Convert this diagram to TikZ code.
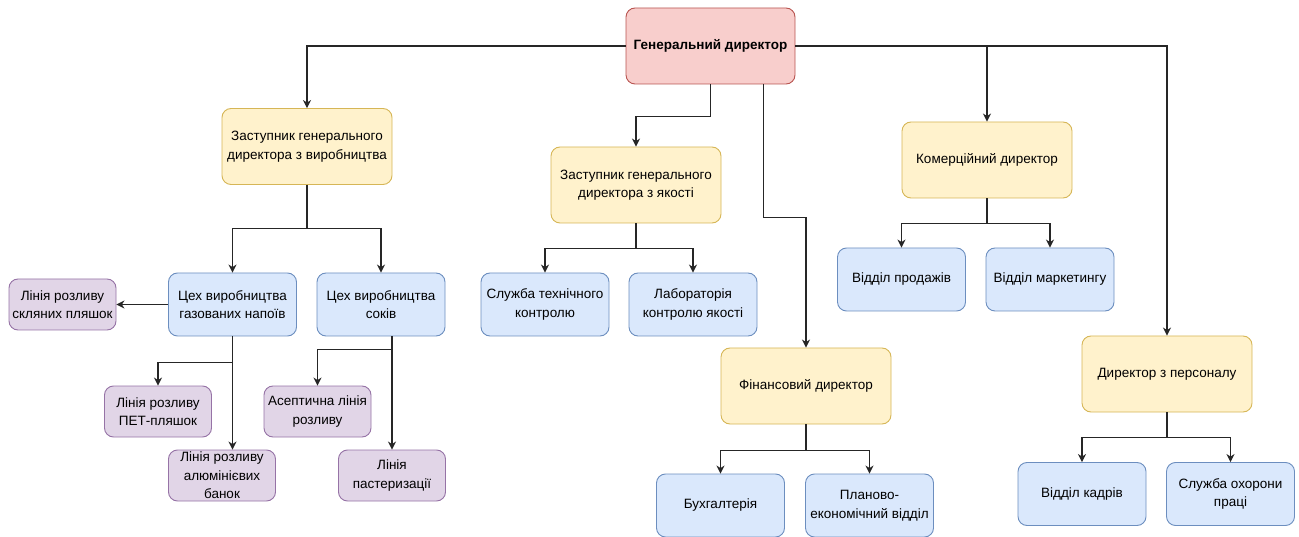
\documentclass[tikz,border=0pt]{standalone}
\usepackage{fontspec}
\setmainfont{Liberation Sans}
\usetikzlibrary{positioning}
\usetikzlibrary{arrows.meta}
\definecolor{genfill}{HTML}{F8CECC}
\definecolor{genline}{HTML}{B85450}
\definecolor{dirfill}{HTML}{FFF2CC}
\definecolor{dirline}{HTML}{D6B656}
\definecolor{deptfill}{HTML}{DAE8FC}
\definecolor{deptline}{HTML}{6C8EBF}
\definecolor{linefill}{HTML}{E1D5E7}
\definecolor{lineline}{HTML}{9673A6}
\newcommand{\boxfont}{\fontsize{13.5}{18.5}\selectfont}

\begin{document}
\begin{tikzpicture}[x=1pt,y=-1pt
  ,every node/.style={align=center,rounded corners=9pt,line width=0.9pt,inner sep=2pt,font=\boxfont}
  ,genbox/.style={draw=genline,fill=genfill,minimum width=169pt,minimum height=76pt,font=\boxfont\bfseries}
  ,dirbox/.style={draw=dirline,fill=dirfill,minimum width=170pt,minimum height=76pt}
  ,deptbox/.style={draw=deptline,fill=deptfill,minimum width=128pt,minimum height=63pt}
  ,linebox/.style={draw=lineline,fill=linefill,minimum width=107pt,minimum height=51pt}
  ,conn/.style={-{Stealth[length=8pt,width=8pt,inset=2.5pt]},line width=1.1pt,black!85}
  ,hv/.style={to path={-| (\tikztotarget)}}
  ,elbow/.style={to path={-- ++(0,#1) -| (\tikztotarget)}}
  ]
\useasboundingbox (0,0) rectangle (1299,537);

% top level
\node[genbox] (gen) at (710.5,46) {Генеральний директор};

% directors
\node[dirbox] (zv) at (307,146.5) {Заступник генерального\\директора з виробництва};
\node[dirbox] (zy) at (636,185) {Заступник генерального\\директора з якості};
\node[dirbox] (kd) at (987,160) {Комерційний директор};
\node[dirbox] (fd) at (806,386) {Фінансовий директор};
\node[dirbox] (pd) at (1167,374) {Директор з персоналу};

% departments
\node[deptbox] (cg) at (232.5,304.5) {Цех виробництва\\газованих напоїв};
\node[deptbox] (cs) at (381,304.5) {Цех виробництва\\соків};
\node[deptbox] (sk) at (545,304.5) {Служба технічного\\контролю};
\node[deptbox] (lab) at (693,304.5) {Лабораторія\\контролю якості};
\node[deptbox] (vp) at (901.5,279.5) {Відділ продажів};
\node[deptbox] (vm) at (1050,279.5) {Відділ маркетингу};
\node[deptbox] (buh) at (720.5,505.5) {Бухгалтерія};
\node[deptbox] (plan) at (869.5,505.5) {Планово-\\економічний відділ};
\node[deptbox] (vk) at (1082,494) {Відділ кадрів};
\node[deptbox] (ohor) at (1230.5,494) {Служба охорони\\праці};

% production lines
\node[linebox] (ls) at (62.5,304.5) {Лінія розливу\\скляних пляшок};
\node[linebox] (pet) at (158,411.5) {Лінія розливу\\ПЕТ-пляшок};
\node[linebox] (al) at (222,475.5) {Лінія розливу\\алюмінієвих\\банок};
\node[linebox] (as) at (317.5,411.5) {Асептична лінія\\розливу};
\node[linebox] (past) at (392,475.5) {Лінія\\пастеризації};

\path[conn]
  (gen.west) edge[hv] (zv.north)
  (gen.east) edge[hv] (kd.north)
  (gen.east) edge[hv] (pd.north)
  (gen.south) edge[elbow=32] (zy.north)
  ([xshift=53pt]gen.south) edge[elbow=133] (fd.north)
  (zv.south) edge[elbow=44] (cg.north)
  (zv.south) edge[elbow=44] (cs.north)
  (zy.south) edge[elbow=25] (sk.north)
  (zy.south) edge[elbow=25] (lab.north)
  (kd.south) edge[elbow=25] (vp.north)
  (kd.south) edge[elbow=25] (vm.north)
  (fd.south) edge[elbow=26] (buh.north)
  (fd.south) edge[elbow=26] (plan.north)
  (pd.south) edge[elbow=25] (vk.north)
  (pd.south) edge[elbow=25] (ohor.north)
  (cg.west) edge (ls.east)
  (cg.south) edge[elbow=26] (pet.north)
  (cg.south) edge (cg.south |- al.north)
  (cs.south -| past.north) edge[elbow=13] (as.north)
  (cs.south -| past.north) edge (past.north)
  ;
\end{tikzpicture}
\end{document}
